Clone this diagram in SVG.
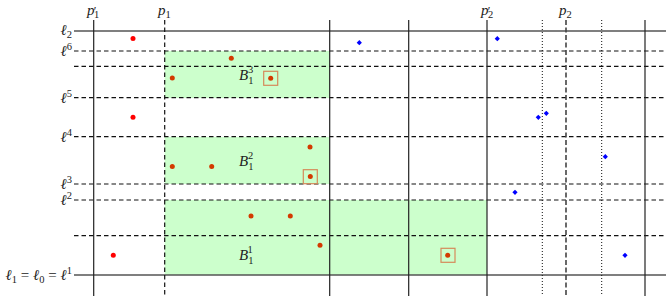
<svg xmlns="http://www.w3.org/2000/svg" xmlns:xlink="http://www.w3.org/1999/xlink" width="666" height="296" viewBox="0 0 666 296">
<style>
.reg{fill:#ccffcc;stroke:none}
.solidh{stroke:#555;stroke-width:1.4;fill:none}
.solidv{stroke:#222;stroke-width:1.2;fill:none}
.dash{stroke:#111;stroke-width:1.2;stroke-dasharray:4.5,3;fill:none}
.dashp2{stroke:#444;stroke-width:1.6;stroke-dasharray:5,2.5;fill:none}
.dot{stroke:#111;stroke-width:1;stroke-dasharray:1,2;fill:none}
.rin{fill:#d33a00}
.rout{fill:#ff0000}
.blue{fill:#0000ff}
.sel{fill:none;stroke:#d58a5a;stroke-width:1.2}
text{font-family:"Liberation Serif","DejaVu Serif",serif;font-style:italic;fill:#222;font-size:15px}
.sm{font-size:10.5px;font-style:normal}
.pr{font-size:12px;font-style:normal}
</style>
<defs>
<path id="bp" d="M0,-2.6 L2.6,0 L0,2.6 L-2.6,0 Z"/>
</defs>
<g id="regions">
<g id="B13"><rect class="reg" x="164.7" y="51" width="165" height="47"/><text x="239" y="80">B<tspan class="sm" dy="4">1</tspan><tspan class="sm" dx="-5.5" dy="-11">3</tspan></text></g>
<g id="B12"><rect class="reg" x="164.7" y="137" width="165" height="47"/><text x="239" y="166">B<tspan class="sm" dy="4">1</tspan><tspan class="sm" dx="-5.5" dy="-11">2</tspan></text></g>
<g id="B11"><rect class="reg" x="164.7" y="200" width="322.3" height="75"/><text x="239" y="260">B<tspan class="sm" dy="4">1</tspan><tspan class="sm" dx="-5.5" dy="-11">1</tspan></text></g>
</g>
<g id="lines">
<line class="solidh" x1="74" y1="31" x2="666" y2="31"/>
<line class="dash" x1="74" y1="51" x2="666" y2="51"/>
<line class="dash" x1="74" y1="66.3" x2="666" y2="66.3"/>
<line class="dash" x1="74" y1="97.7" x2="666" y2="97.7"/>
<line class="dash" x1="74" y1="136.7" x2="666" y2="136.7"/>
<line class="dash" x1="74" y1="184" x2="666" y2="184"/>
<line class="dash" x1="74" y1="200" x2="666" y2="200"/>
<line class="dash" x1="74" y1="235.7" x2="666" y2="235.7"/>
<line class="solidh" x1="74" y1="275" x2="666" y2="275"/>
<line class="solidv" x1="93.7" y1="20" x2="93.7" y2="296"/>
<line class="dash" x1="164.7" y1="20" x2="164.7" y2="296"/>
<line class="solidv" x1="329.7" y1="20" x2="329.7" y2="296"/>
<line class="solidv" x1="408.7" y1="20" x2="408.7" y2="296"/>
<line class="solidv" x1="487" y1="20" x2="487" y2="296"/>
<line class="dot" x1="542.3" y1="20" x2="542.3" y2="296"/>
<line class="dashp2" x1="566" y1="20" x2="566" y2="296"/>
<line class="dot" x1="601.7" y1="20" x2="601.7" y2="296"/>
<line class="solidv" x1="645" y1="20" x2="645" y2="296"/>
</g>
<g id="labels">
<text x="87" y="15">p<tspan class="sm" dx="-0.5" dy="3">1</tspan><tspan class="pr" dx="-5.5" dy="-3">′</tspan></text>
<text x="158" y="15">p<tspan class="sm" dy="3">1</tspan></text>
<text x="481" y="15">p<tspan class="sm" dx="-0.5" dy="3">2</tspan><tspan class="pr" dx="-5.5" dy="-3">′</tspan></text>
<text x="559" y="15">p<tspan class="sm" dy="3">2</tspan></text>
<text x="72" y="35" text-anchor="end">ℓ<tspan class="sm" dy="3">2</tspan></text>
<text x="72" y="56" text-anchor="end">ℓ<tspan class="sm" dy="-6">6</tspan></text>
<text x="72" y="103" text-anchor="end">ℓ<tspan class="sm" dy="-6">5</tspan></text>
<text x="72" y="142" text-anchor="end">ℓ<tspan class="sm" dy="-6">4</tspan></text>
<text x="72" y="189" text-anchor="end">ℓ<tspan class="sm" dy="-6">3</tspan></text>
<text x="72" y="205" text-anchor="end">ℓ<tspan class="sm" dy="-6">2</tspan></text>
<text x="72" y="280" text-anchor="end">ℓ<tspan class="sm" dy="3">1</tspan><tspan dy="-3" font-style="normal"> = </tspan>ℓ<tspan class="sm" dy="3">0</tspan><tspan dy="-3" font-style="normal"> = </tspan>ℓ<tspan class="sm" dy="-6">1</tspan></text>
</g>
<g id="points">
<circle class="rout" cx="133" cy="38.5" r="2.5"/>
<circle class="rin" cx="231.3" cy="58.3" r="2.5"/>
<circle class="rin" cx="172.3" cy="78" r="2.5"/>
<circle class="rin" cx="270.7" cy="78.3" r="2.5"/>
<circle class="rout" cx="133" cy="117.3" r="2.5"/>
<circle class="rin" cx="310" cy="147" r="2.5"/>
<circle class="rin" cx="172.3" cy="166.5" r="2.5"/>
<circle class="rin" cx="211.7" cy="166.5" r="2.5"/>
<circle class="rin" cx="310.3" cy="176.5" r="2.5"/>
<circle class="rin" cx="251" cy="216" r="2.5"/>
<circle class="rin" cx="290.3" cy="216" r="2.5"/>
<circle class="rin" cx="320" cy="245.3" r="2.5"/>
<circle class="rin" cx="447.7" cy="255.3" r="2.5"/>
<circle class="rout" cx="113.3" cy="255.3" r="2.5"/>
<rect class="sel" x="263.7" y="71.3" width="14" height="14"/>
<rect class="sel" x="303.3" y="169.7" width="14" height="14"/>
<rect class="sel" x="441" y="248.3" width="14" height="14"/>
<use xlink:href="#bp" class="blue" x="359.3" y="42.7"/>
<use xlink:href="#bp" class="blue" x="497.3" y="38.7"/>
<use xlink:href="#bp" class="blue" x="538.3" y="117.3"/>
<use xlink:href="#bp" class="blue" x="546.3" y="113.3"/>
<use xlink:href="#bp" class="blue" x="605.3" y="156.7"/>
<use xlink:href="#bp" class="blue" x="515" y="192.3"/>
<use xlink:href="#bp" class="blue" x="625" y="255.3"/>
</g>
</svg>
